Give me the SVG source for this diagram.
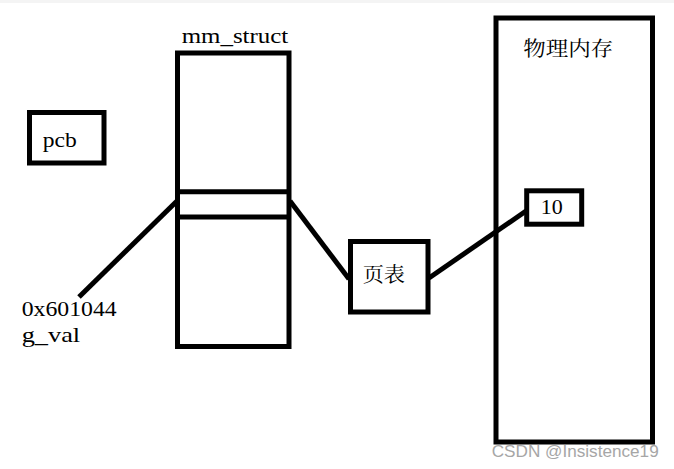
<svg xmlns="http://www.w3.org/2000/svg" width="674" height="469" viewBox="0 0 674 469">
<style>
.box{fill:none;stroke:#000;stroke-width:5}
.ln{stroke:#000;stroke-width:5;fill:none}
.t{font-family:"Liberation Serif","Noto Sans CJK SC",serif;font-size:21px;fill:#000}
.cjk{font-family:"Noto Serif CJK SC","Noto Sans CJK SC",serif;font-size:20px;fill:#000}
.wm{font-family:"Liberation Sans",Arial,sans-serif;font-size:17px;fill:#a6a6a6}
</style>
<rect x="0" y="0" width="674" height="469" fill="#fff"/>
<rect x="0" y="0" width="674" height="3" fill="#f4f4f4"/>
<g id="connectors">
<line class="ln" x1="79" y1="297" x2="177" y2="201"/>
<line class="ln" x1="290" y1="201" x2="349" y2="279"/>
<line class="ln" x1="429" y1="278" x2="526" y2="211"/>
</g>
<g id="pcb">
<rect class="box" x="29.5" y="112.5" width="74.5" height="50.5"/>
<text class="t" x="42.7" y="146.7" textLength="34" lengthAdjust="spacingAndGlyphs">pcb</text>
</g>
<g id="mm_struct">
<text class="t" x="181.7" y="42.7" textLength="106.6" lengthAdjust="spacingAndGlyphs">mm_struct</text>
<rect class="box" x="177.5" y="53" width="111.5" height="293.5"/>
<line class="ln" x1="177.5" y1="191.7" x2="289" y2="191.7"/>
<line class="ln" x1="177.5" y1="217" x2="289" y2="217"/>
</g>
<g id="addr">
<text class="t" x="21.7" y="316" textLength="95" lengthAdjust="spacingAndGlyphs">0x601044</text>
<text class="t" x="21.7" y="341.5" textLength="58.5" lengthAdjust="spacingAndGlyphs">g_val</text>
</g>
<g id="pagetable">
<rect class="box" x="350.5" y="241.5" width="77.5" height="70.5"/>
<text class="cjk" x="362.7" y="282" textLength="42.3" lengthAdjust="spacingAndGlyphs">页表</text>
</g>
<g id="physmem">
<rect class="box" x="496" y="18" width="156.5" height="424"/>
<text class="cjk" x="523.3" y="56" textLength="90" lengthAdjust="spacingAndGlyphs">物理内存</text>
</g>
<g id="val">
<rect class="box" x="526.7" y="190.8" width="55" height="33.4"/>
<text class="t" x="540.7" y="214.3" textLength="22" lengthAdjust="spacingAndGlyphs">10</text>
</g>
<text class="wm" x="491.7" y="457.3" textLength="167" lengthAdjust="spacingAndGlyphs">CSDN @Insistence19</text>
</svg>
